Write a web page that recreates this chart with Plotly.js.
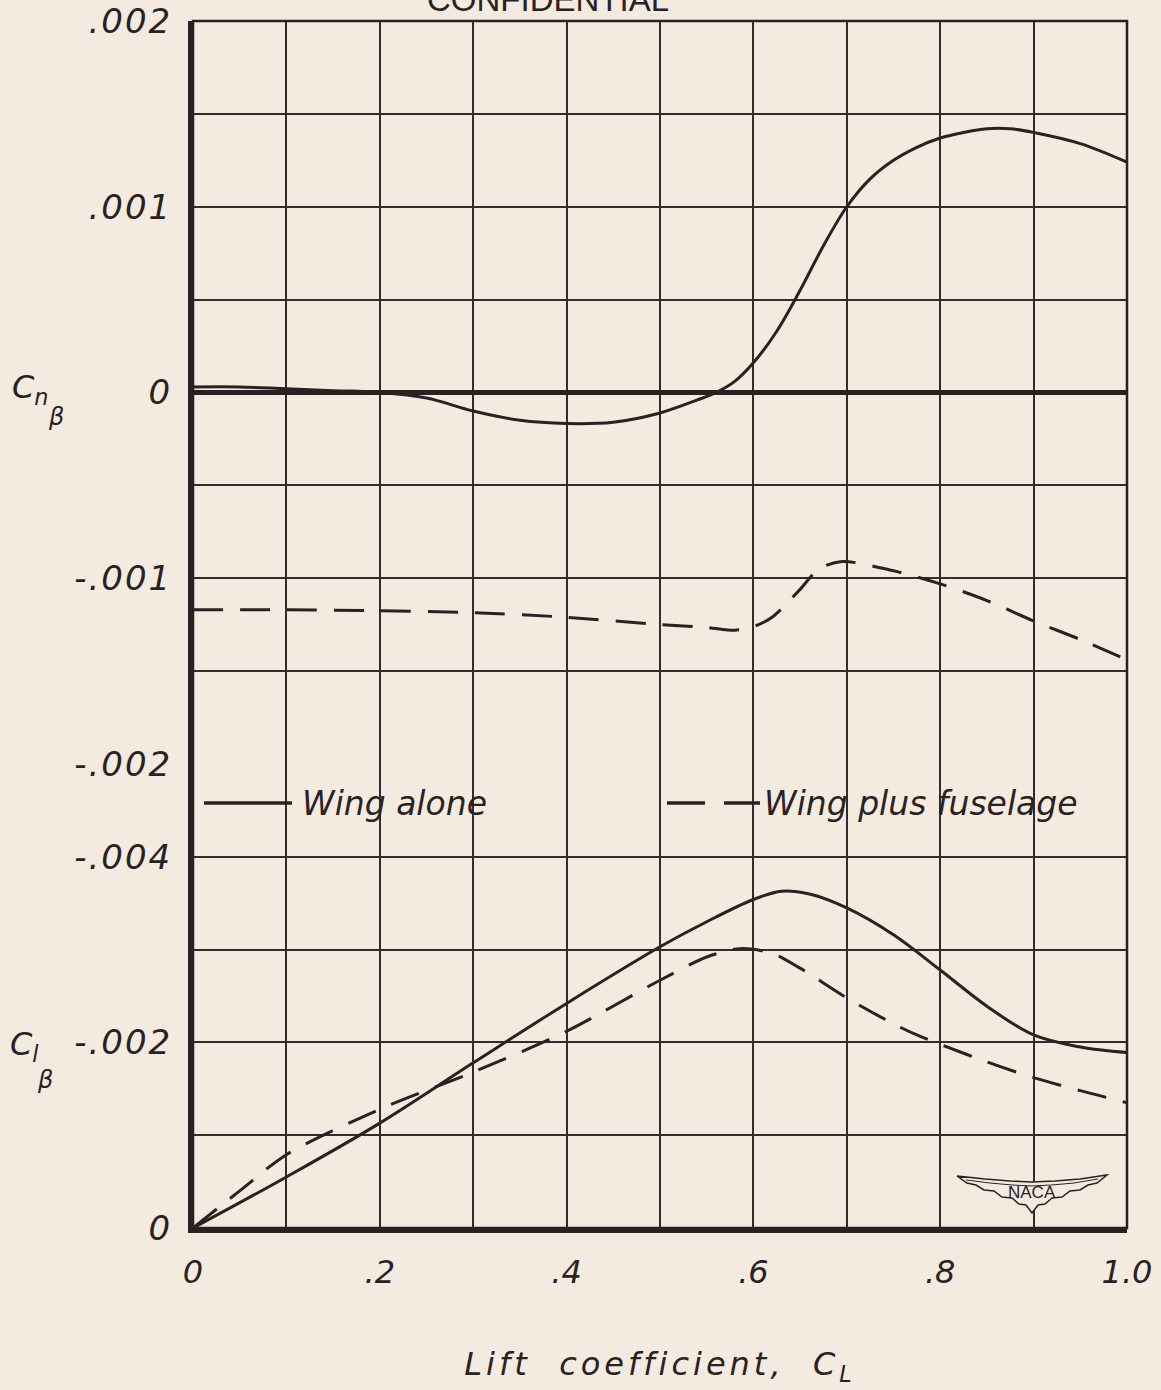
<!DOCTYPE html>
<html><head><meta charset="utf-8">
<script src="https://cdn.plot.ly/plotly-3.0.1.min.js"></script>
<style>
html,body{margin:0;padding:0;background:#f3eae0;}
#chart{width:1161px;height:1390px;}
.xtitle{letter-spacing:4px;}
.ytick text,.y2tick text{letter-spacing:2px;}
</style></head><body><div id="chart"></div>
<script>
// ---- data ----
const cnWingAloneCL = [0, 0.05, 0.1, 0.15, 0.2, 0.25, 0.3, 0.35, 0.4, 0.45, 0.5, 0.54, 0.56, 0.58, 0.6, 0.625, 0.65, 0.675, 0.7, 0.725, 0.75, 0.775, 0.8, 0.825, 0.85, 0.875, 0.9, 0.95, 1.0];
const cnWingAlone   = [0.00003, 0.00003, 0.00002, 0.00001, 0, -0.00003, -0.0001, -0.00015, -0.000167, -0.00016, -0.00011, -0.00004, 0, 0.00006, 0.00016, 0.00033, 0.00055, 0.00079, 0.001, 0.00115, 0.00125, 0.00132, 0.00137, 0.0014, 0.00142, 0.00142, 0.0014, 0.00134, 0.00124];

const cnWingFuselageCL = [0, 0.1, 0.2, 0.3, 0.4, 0.5, 0.55, 0.58, 0.6, 0.62, 0.65, 0.67, 0.695, 0.75, 0.8, 0.85, 0.9, 0.95, 1.0];
const cnWingFuselage   = [-0.00117, -0.00117, -0.001175, -0.001185, -0.00121, -0.00125, -0.001265, -0.00128, -0.00126, -0.00121, -0.00106, -0.00095, -0.00091, -0.00096, -0.00103, -0.00112, -0.00123, -0.00133, -0.00144];

const clWingAloneCL = [0, 0.1, 0.2, 0.3, 0.4, 0.5, 0.55, 0.6, 0.63, 0.66, 0.7, 0.75, 0.8, 0.85, 0.9, 0.95, 1.0];
const clWingAlone   = [0, -0.00055, -0.00113, -0.00178, -0.00242, -0.00303, -0.0033, -0.00354, -0.00363, -0.0036, -0.00345, -0.00316, -0.00278, -0.00239, -0.00208, -0.00195, -0.00189];

const clWingFuselageCL = [0, 0.05, 0.1, 0.2, 0.3, 0.4, 0.5, 0.55, 0.585, 0.62, 0.65, 0.7, 0.75, 0.775, 0.8, 0.85, 0.9, 0.95, 1.0];
const clWingFuselage   = [0, -0.0004, -0.00079, -0.00128, -0.00168, -0.00212, -0.00267, -0.00292, -0.00301, -0.00296, -0.00280, -0.00248, -0.00220, -0.00208, -0.00198, -0.00179, -0.00162, -0.00148, -0.00135];

const xTickVals = [0, 0.1, 0.2, 0.3, 0.4, 0.5, 0.6, 0.7, 0.8, 0.9, 1.0];
const xTickText = ['0', '', '.2', '', '.4', '', '.6', '', '.8', '', '1.0'];
const cnTickVals = [-0.002, -0.0015, -0.001, -0.0005, 0, 0.0005, 0.001, 0.0015, 0.002];
const cnTickText = ['-.002', '', '-.001', '', '0', '', '.001', '', '.002'];
const clTickVals = [0, -0.001, -0.002, -0.003, -0.004, -0.005];
const clTickText = ['0', '', '-.002', '', '-.004', ''];

const seriesNames = ['Wing alone', 'Wing plus fuselage'];

// ---- styling ----
const BG = '#f3eae0';
const INK = '#2a2222';
const GRID = '#342c2c';
const W = 1161, H = 1390;
const M = {l: 193, r: 34, t: 21, b: 162};
const PW = W - M.l - M.r, PH = H - M.t - M.b;
const px = X => (X - M.l) / PW;           // pixel -> paper x
const py = Y => (H - M.b - Y) / PH;       // pixel -> paper y
const split = py(764);

const tickFont = {family: 'DejaVu Sans', size: 34, color: INK, style: 'italic'};
const xTickFont = {family: 'DejaVu Sans', size: 32, color: INK, style: 'italic'};
const solid = {color: INK, width: 3, shape: 'spline', smoothing: 1.0};
const dashed = {color: INK, width: 3, shape: 'spline', smoothing: 0.8, dash: '30px,17px'};

const traces = [
  {x: cnWingAloneCL, y: cnWingAlone, xaxis: 'x', yaxis: 'y', mode: 'lines', line: solid, name: seriesNames[0]},
  {x: cnWingFuselageCL, y: cnWingFuselage, xaxis: 'x', yaxis: 'y', mode: 'lines', line: dashed, name: seriesNames[1]},
  {x: clWingAloneCL, y: clWingAlone, xaxis: 'x', yaxis: 'y2', mode: 'lines', line: solid, name: seriesNames[0]},
  {x: clWingFuselageCL, y: clWingFuselage, xaxis: 'x', yaxis: 'y2', mode: 'lines', line: dashed, name: seriesNames[1]}
];

function pathFrom(pts, close) {
  return pts.map((p, i) => (i ? 'L' : 'M') + px(p[0]).toFixed(5) + ',' + py(p[1]).toFixed(5)).join(' ') + (close ? ' Z' : '');
}
const wing = [[957,1176],[985,1179],[1010,1181],[1032,1182],[1055,1181],[1080,1179],[1107,1175],
  [1097,1183],[1088,1185],[1080,1190],[1070,1191],[1062,1197],[1052,1198],[1045,1204],[1038,1205],[1032,1213],
  [1026,1205],[1019,1204],[1012,1198],[1002,1197],[994,1191],[984,1190],[976,1185],[967,1183]];
const wingInner = [[966,1180],[990,1183],[1012,1185],[1032,1186],[1052,1185],[1074,1183],[1098,1179]];

const shapes = [
  // masks behind legend text and logo (cover grid lines)
  {type: 'rect', xref: 'paper', yref: 'paper', x0: px(198), x1: px(496), y0: py(816), y1: py(772), fillcolor: BG, line: {width: 0}, layer: 'between'},
  {type: 'rect', xref: 'paper', yref: 'paper', x0: px(662), x1: px(1100), y0: py(816), y1: py(772), fillcolor: BG, line: {width: 0}, layer: 'between'},
  {type: 'rect', xref: 'paper', yref: 'paper', x0: px(950), x1: px(1114), y0: py(1218), y1: py(1166), fillcolor: BG, line: {width: 0}, layer: 'between'},
  // legend samples
  {type: 'line', xref: 'paper', yref: 'paper', x0: px(204), x1: px(292), y0: py(803), y1: py(803), line: {color: INK, width: 3.5}},
  {type: 'line', xref: 'paper', yref: 'paper', x0: px(667), x1: px(705), y0: py(803), y1: py(803), line: {color: INK, width: 3.5}},
  {type: 'line', xref: 'paper', yref: 'paper', x0: px(724), x1: px(760), y0: py(803), y1: py(803), line: {color: INK, width: 3.5}},
  // outer frame
  {type: 'rect', xref: 'paper', yref: 'paper', x0: 0, x1: 1, y0: 0, y1: 1, line: {color: INK, width: 2.5}, layer: 'above'},
  // NACA wing emblem
  {type: 'path', xref: 'paper', yref: 'paper', path: pathFrom(wing, true), fillcolor: BG, line: {color: INK, width: 1.5}, layer: 'above'},
  {type: 'path', xref: 'paper', yref: 'paper', path: pathFrom(wingInner, false), line: {color: INK, width: 1}, layer: 'above'}
];

const annFont = (size) => ({family: 'DejaVu Sans', size: size, color: INK, style: 'italic'});
const annotations = [
  {xref: 'paper', yref: 'paper', x: px(300), y: py(803), xanchor: 'left', yanchor: 'middle', text: seriesNames[0], showarrow: false, font: annFont(33)},
  {xref: 'paper', yref: 'paper', x: px(762), y: py(803), xanchor: 'left', yanchor: 'middle', text: seriesNames[1], showarrow: false, font: annFont(33)},
  {xref: 'paper', yref: 'paper', x: px(10), y: py(389), xanchor: 'left', yanchor: 'middle', text: 'C<sub>n</sub>', showarrow: false, font: annFont(32)},
  {xref: 'paper', yref: 'paper', x: px(46), y: py(417), xanchor: 'left', yanchor: 'middle', text: 'β', showarrow: false, font: annFont(24)},
  {xref: 'paper', yref: 'paper', x: px(8), y: py(1046), xanchor: 'left', yanchor: 'middle', text: 'C<sub>l</sub>', showarrow: false, font: annFont(32)},
  {xref: 'paper', yref: 'paper', x: px(35), y: py(1080), xanchor: 'left', yanchor: 'middle', text: 'β', showarrow: false, font: annFont(24)},
  {xref: 'paper', yref: 'paper', x: px(548), y: 1, xanchor: 'center', yanchor: 'bottom', yshift: 1, text: 'CONFIDENTIAL', showarrow: false, font: {family: 'Liberation Sans', size: 33, color: INK}},
  {xref: 'paper', yref: 'paper', x: px(1032), y: py(1192), xanchor: 'center', yanchor: 'middle', text: 'NACA', showarrow: false, font: {family: 'Liberation Sans', size: 17, color: INK}}
];

const layout = {
  width: W, height: H,
  margin: M,
  paper_bgcolor: BG, plot_bgcolor: BG,
  showlegend: false,
  xaxis: {
    anchor: 'y2', range: [0, 1], tickmode: 'array', tickvals: xTickVals, ticktext: xTickText,
    showgrid: true, gridcolor: GRID, gridwidth: 2, zeroline: false,
    showline: true, linecolor: INK, linewidth: 5,
    ticks: 'outside', ticklen: 12, tickcolor: 'rgba(0,0,0,0)', tickfont: xTickFont,
    title: {text: 'Lift  coefficient,  C<sub>L</sub>', font: annFont(32), standoff: 64}
  },
  yaxis: {
    domain: [split, 1], anchor: 'x', range: [-0.002, 0.002], tickmode: 'array', tickvals: cnTickVals, ticktext: cnTickText,
    showgrid: true, gridcolor: GRID, gridwidth: 2,
    zeroline: true, zerolinecolor: INK, zerolinewidth: 4.5,
    showline: true, linecolor: INK, linewidth: 5,
    ticks: 'outside', ticklen: 9, tickcolor: 'rgba(0,0,0,0)', tickfont: tickFont
  },
  yaxis2: {
    domain: [0, split], anchor: 'x', range: [0, -0.005], tickmode: 'array', tickvals: clTickVals, ticktext: clTickText,
    showgrid: true, gridcolor: GRID, gridwidth: 2, zeroline: false,
    showline: true, linecolor: INK, linewidth: 5,
    ticks: 'outside', ticklen: 9, tickcolor: 'rgba(0,0,0,0)', tickfont: tickFont
  },
  shapes: shapes,
  annotations: annotations
};

Plotly.newPlot('chart', traces, layout, {staticPlot: true, displayModeBar: false});
</script>
</body></html>
